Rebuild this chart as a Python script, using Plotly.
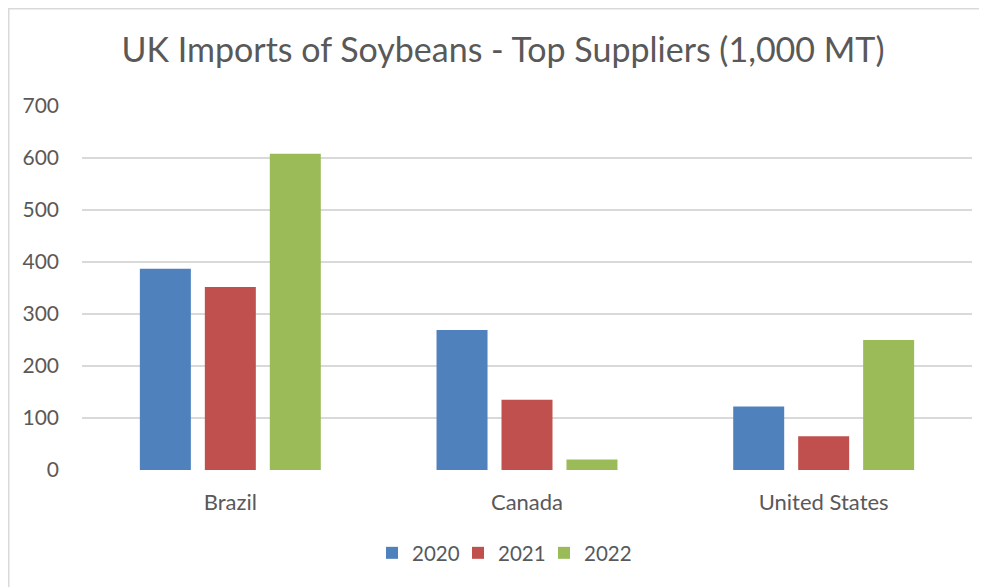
import plotly.graph_objects as go

countries = ["Brazil", "Canada", "United States"]
years = ["2020", "2021", "2022"]
v2020 = [387, 269, 122]
v2021 = [352, 135, 65]
v2022 = [608, 20, 250]
colors = ["#4F81BD", "#C0504D", "#9BBB59"]
yticks = [0, 100, 200, 300, 400, 500, 600, 700]

FONT = "Lato, Carlito, Calibri, sans-serif"
TXT = "#595959"

# page has an 8px body margin; figure coordinates are screen - 8
OFF = 8
W, H = 987 - OFF, 587 - OFF
L, R, T, B = 82 - OFF, 15, 106 - OFF, 117
pw = W - L - R
ph = H - T - B

def px2paper_x(px):
    return (px - OFF - L) / pw

def px2paper_y(py):
    return (H - B - (py - OFF)) / ph

legend_ids = ["legend", "legend2", "legend3"]
legend_left_px = [372, 458, 544]

fig = go.Figure()
for name, vals, col, lid in zip(years, [v2020, v2021, v2022], colors, legend_ids):
    fig.add_trace(go.Bar(x=countries, y=vals, name=name, marker_color=col,
                         marker_line_width=0, legend=lid))

legend_common = dict(orientation="h", xanchor="left", yanchor="middle",
                     y=px2paper_y(553), bgcolor="rgba(0,0,0,0)",
                     font=dict(family=FONT, size=20.5, color=TXT),
                     itemwidth=30)

layout_legends = {}
for lid, lx in zip(legend_ids, legend_left_px):
    layout_legends[lid] = dict(legend_common, x=px2paper_x(lx))

fig.update_layout(
    width=W, height=H,
    margin=dict(l=L, r=R, t=T, b=B, pad=0),
    paper_bgcolor="white", plot_bgcolor="white",
    barmode="group", bargap=0.343, bargroupgap=0.215,
    font=dict(family=FONT, color=TXT, size=20),
    title=dict(text="UK Imports of Soybeans - Top Suppliers (1,000 MT)",
               x=(503 - OFF) / W, xanchor="center", y=1 - (50 - OFF) / H, yanchor="middle",
               font=dict(family=FONT, size=34, color=TXT)),
    showlegend=True,
    xaxis=dict(showgrid=False, showline=False, zeroline=False,
               ticks="", tickfont=dict(family=FONT, size=22, color=TXT),
               ticklabelstandoff=17),
    yaxis=dict(range=[0, 700], tickvals=yticks, showgrid=True,
               gridcolor="#D9D9D9", gridwidth=1.5, zeroline=False,
               showline=False, ticks="",
               tickfont=dict(family=FONT, size=21, color=TXT),
               ticklabelstandoff=22),
    shapes=[
        dict(type="rect", xref="paper", yref="paper",
             x0=(0.75 - L) / pw, x1=px2paper_x(1100),
             y0=px2paper_y(700), y1=(H - B - 0.75) / ph,
             line=dict(color="#D9D9D9", width=1.5), fillcolor="rgba(0,0,0,0)",
             layer="below"),
    ],
    **layout_legends,
)

fig.write_html("out.html")
